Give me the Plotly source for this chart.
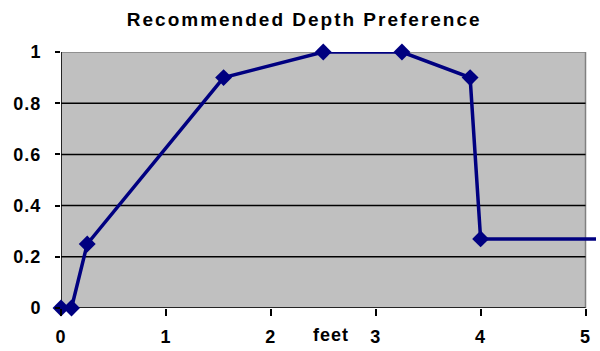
import plotly.graph_objects as go

# Depth preference curve (depth in feet vs. preference index)
depth_ft = [0.0, 0.1, 0.25, 1.55, 2.5, 3.25, 3.9, 4.0, 5.1]
preference = [0.0, 0.0, 0.25, 0.9, 1.0, 1.0, 0.9, 0.27, 0.27]
marker_sizes = [13, 13, 13, 13, 13, 13, 13, 13, 0]

x_ticks = [0, 1, 2, 3, 4, 5]
y_ticks = [0, 0.2, 0.4, 0.6, 0.8, 1]
y_tick_text = ["0", "0.2", "0.4", "0.6", "0.8", "1"]

FONT = "Liberation Sans, Arial, sans-serif"
NAVY = "#000080"
BOLD = dict(family=FONT, size=18, color="black", weight="bold")
TITLE_FONT = dict(family=FONT, size=19, color="black", weight="bold")

fig = go.Figure()
fig.add_trace(go.Scatter(
    x=depth_ft, y=preference, mode="lines+markers",
    line=dict(color=NAVY, width=3.5),
    marker=dict(symbol="diamond", size=marker_sizes, color=NAVY, opacity=1,
                line=dict(width=0)),
    cliponaxis=False, showlegend=False,
))

shapes = []
# grey plotting area, bounded at x = 5
shapes.append(dict(type="rect", xref="x", yref="y", x0=0, x1=5, y0=0, y1=1,
                   fillcolor="#C0C0C0", line=dict(color="#808080", width=1.5),
                   layer="below"))
# horizontal grid lines
for yv in y_ticks[1:-1]:
    shapes.append(dict(type="line", xref="x", yref="y", x0=0, x1=5, y0=yv, y1=yv,
                       line=dict(color="black", width=1.5), layer="below"))
# axis lines
shapes.append(dict(type="line", xref="x", yref="y", x0=0, x1=0, y0=0, y1=1,
                   line=dict(color="black", width=1.5), layer="below"))
shapes.append(dict(type="line", xref="x", yref="y", x0=0, x1=5, y0=0, y1=0,
                   line=dict(color="black", width=1.5), layer="below"))

fig.update_layout(
    width=600, height=351,
    margin=dict(l=61, r=4, t=52, b=43),
    paper_bgcolor="white", plot_bgcolor="white",
    font=BOLD,
    title=dict(text="Recommended Depth Preference", x=0.507, xanchor="center",
               y=0.945, yanchor="middle", font=TITLE_FONT),
    shapes=shapes,
    xaxis=dict(range=[0, 5.1], tickvals=x_ticks, ticktext=[str(v) for v in x_ticks],
               showgrid=False, zeroline=False, showline=False,
               ticks="outside", ticklen=7, tickwidth=1.5, tickcolor="black",
               ticklabelstandoff=5, tickfont=BOLD),
    yaxis=dict(range=[0, 1], tickvals=y_ticks, ticktext=y_tick_text,
               showgrid=False, zeroline=False, showline=False,
               ticks="outside", ticklen=5, tickwidth=1.5, tickcolor="black",
               ticklabelstandoff=10, tickfont=BOLD),
    annotations=[dict(text="feet", xref="x", yref="paper", x=2.57, y=-0.06,
                      xanchor="center", yanchor="top", showarrow=False, font=BOLD)],
)

fig.write_html("out.html", post_script="""
document.querySelectorAll('.annotation-text, .xtick text, .ytick text')
  .forEach(function(el){ el.style.letterSpacing = '1px'; });
document.querySelectorAll('.gtitle').forEach(function(el){ el.style.letterSpacing = '2px'; });
""")
